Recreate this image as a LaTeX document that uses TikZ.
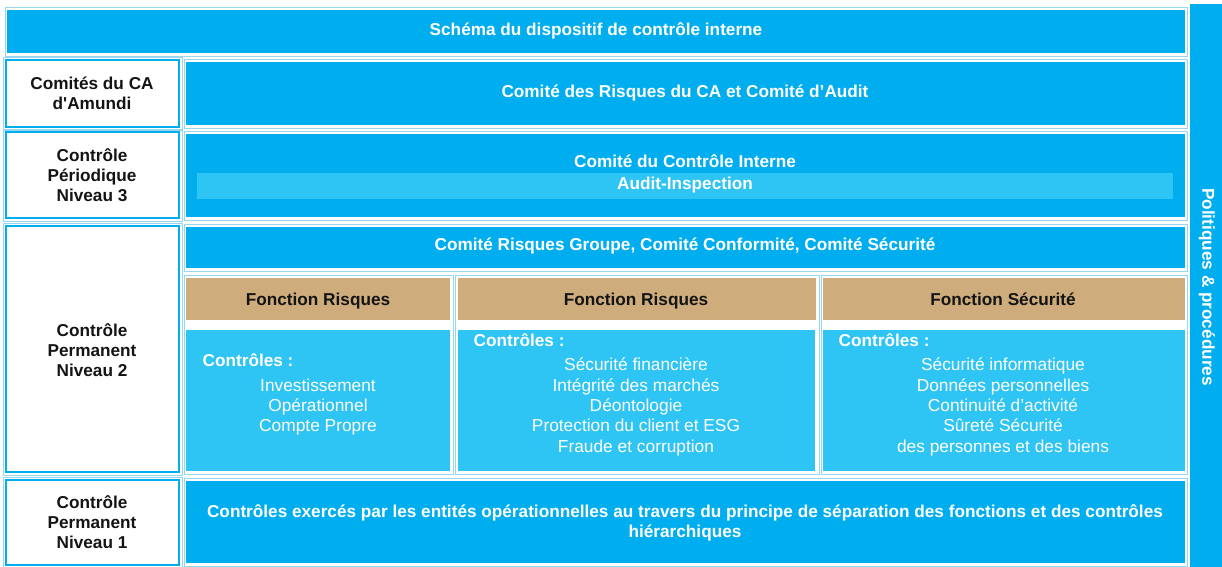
\documentclass[tikz,border=0pt]{standalone}
\usepackage{fontspec}
\setmainfont{Liberation Sans}
\definecolor{amblue}{RGB}{0,174,239}
\definecolor{amlight}{RGB}{46,196,243}
\definecolor{amtan}{RGB}{206,172,124}
\definecolor{amhalo}{RGB}{150,215,242}
\definecolor{amink}{RGB}{20,20,20}
\begin{document}
\begin{tikzpicture}[x=0.75pt,y=0.75pt,yscale=-1,xscale=1,
  blk/.style={fill=amblue},
  pale/.style={fill=amlight},
  tan/.style={fill=amtan},
  halo/.style={draw=amhalo,line width=0.5},
  lbl/.style={draw=amblue,line width=1.9,fill=white},
  wt/.style={text=white,font=\bfseries\fontsize{12.9}{15}\selectfont,align=center},
  bt/.style={text=amink,font=\bfseries\fontsize{12.9}{15}\selectfont,align=center},
  hd/.style={bt,anchor=base},
  it/.style={text=white,font=\fontsize{13}{15.3}\selectfont,align=center}]
\useasboundingbox (0,0) rectangle (1222,567);
%Shape: Rectangle (title band)
\draw [halo] (5,7) rectangle (1187,56);
\fill [blk] (7,10) rectangle (1185,53);
%Shape: Rectangle (side band)
\fill [blk] (1190,4) rectangle (1222,567);
%Shape: Rectangle (left labels)
\draw [halo] (3,57) rectangle (182,130);
\draw [lbl] (6,60) rectangle (179,127);
\draw [halo] (3,129) rectangle (182,221);
\draw [lbl] (6,132) rectangle (179,218);
\draw [halo] (3,223) rectangle (182,475);
\draw [lbl] (6,226) rectangle (179,472);
\draw [halo] (3,477) rectangle (182,567);
\draw [lbl] (6,480) rectangle (179,565);
%Shape: Rectangle (committees)
\draw [halo] (184,59) rectangle (1187,128);
\fill [blk] (186,62) rectangle (1185,125);
\draw [halo] (184,131) rectangle (1187,220);
\fill [blk] (186,134) rectangle (1185,217);
\fill [pale] (197,173) rectangle (1173,199);
\draw [halo] (184,224) rectangle (1187,271);
\fill [blk] (186,227) rectangle (1185,268);
%Shape: Rectangle (functions)
\draw [halo] (184,275) rectangle (453,474);
\fill [tan] (186,278) rectangle (450,320);
\fill [pale] (186,330) rectangle (450,471);
\draw [halo] (455,275) rectangle (819,474);
\fill [tan] (458,278) rectangle (816,320);
\fill [pale] (458,330) rectangle (815,471);
\draw [halo] (821,275) rectangle (1187,474);
\fill [tan] (823,278) rectangle (1185,320);
\fill [pale] (823,330) rectangle (1185,471);
%Shape: Rectangle (level 1)
\draw [halo] (184,478) rectangle (1187,566);
\fill [blk] (186,481) rectangle (1185,563);
% Text Node
\draw (596,31) node (title) [wt] {Schéma du dispositif de contrôle interne};
% Text Node
\draw (1207,287) node (policy) [wt,rotate=-90] {Politiques \& procédures};
% Text Node
\draw (92,93) node (caLbl) [bt] {Comités du CA\\d\textquotesingle Amundi};
% Text Node
\draw (92,175) node (n3Lbl) [bt] {Contrôle\\Périodique\\Niveau 3};
% Text Node
\draw (92,350) node (n2Lbl) [bt] {Contrôle\\Permanent\\Niveau 2};
% Text Node
\draw (92,522) node (n1Lbl) [bt] {Contrôle\\Permanent\\Niveau 1};
% Text Node
\draw (685,93) node (caCom) [wt] {Comité des Risques du CA et Comité d’Audit};
% Text Node
\draw (685,161) node (cci) [wt] {Comité du Contrôle Interne};
% Text Node
\draw (685,185) node (audit) [wt] {Audit-Inspection};
% Text Node
\draw (685,246) node (groupCom) [wt] {Comité Risques Groupe, Comité Conformité, Comité Sécurité};
% Text Node
\draw (318,305) node (fnA) [hd] {Fonction Risques};
% Text Node
\draw (636,305) node (fnB) [hd] {Fonction Risques};
% Text Node
\draw (1003,305) node (fnC) [hd] {Fonction Sécurité};
% Text Node
\draw (198,360) node (ctlA) [wt,anchor=west] {Contrôles :};
% Text Node
\draw (469,340) node (ctlB) [wt,anchor=west] {Contrôles :};
% Text Node
\draw (834,340) node (ctlC) [wt,anchor=west] {Contrôles :};
% Text Node
\draw (318,407) node (listA) [it] {Investissement\\Opérationnel\\Compte Propre};
% Text Node
\draw (636,407) node (listB) [it] {Sécurité financière\\Intégrité des marchés\\Déontologie\\Protection du client et ESG\\Fraude et corruption};
% Text Node
\draw (1003,407) node (listC) [it] {Sécurité informatique\\Données personnelles\\Continuité d’activité\\Sûreté Sécurité\\des personnes et des biens};
% Text Node
\draw (685,523) node (n1Txt) [wt] {Contrôles exercés par les entités opérationnelles au travers du principe de séparation des fonctions et des contrôles\\hiérarchiques};
\end{tikzpicture}
\end{document}
